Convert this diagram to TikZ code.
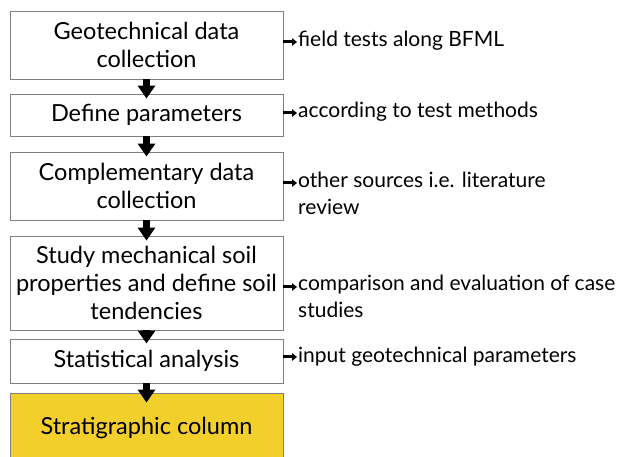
\documentclass[tikz,border=0pt]{standalone}
\usepackage{fontspec}
\setmainfont{Lato}
\usetikzlibrary{arrows.meta}
\definecolor{boxline}{HTML}{808080}
\definecolor{stratfill}{HTML}{F3CF2B}
\begin{document}
\begin{tikzpicture}[x=1pt,y=-1pt,
  stepbox/.style={draw=boxline,line width=0.9pt,minimum width=273pt,inner sep=0pt,align=center,
     font=\fontsize{23.5}{28}\selectfont},
  sidelabel/.style={anchor=base west,inner sep=0pt,align=left,font=\fontsize{21}{27}\selectfont},
  downarrow/.style={line width=6.5pt,-{Triangle[width=17pt,length=13pt]}},
  sidearrow/.style={line width=3pt,-{Triangle[width=7.5pt,length=5pt]}}]
\clip (0,0) rectangle (622,457);
\fill[white] (0,0) rectangle (622,457);
\node[stepbox,minimum height=68pt] (b1) at (146.5,45) {Geotechnical data\\collection};
\node[stepbox,minimum height=42pt] (b2) at (146.5,115) {Define parameters};
\node[stepbox,minimum height=68pt] (b3) at (146.5,186) {Complementary data\\collection};
\node[stepbox,minimum height=94pt] (b4) at (146.5,283) {Study mechanical soil\\properties and define soil\\tendencies};
\node[stepbox,minimum height=44pt] (b5) at (146.5,361) {Statistical analysis};
\node[stepbox,fill=stratfill,minimum height=70pt] (b6) at (146.5,428) {Stratigraphic column};
\draw[downarrow] (b1.south) -- ([yshift=-5pt]b2.north);
\draw[downarrow] (b2.south) -- ([yshift=-5pt]b3.north);
\draw[downarrow] (b3.south) -- ([yshift=-5pt]b4.north);
\draw[downarrow] (b4.south) -- ([yshift=-5pt]b5.north);
\draw[downarrow] (b5.south) -- ([yshift=-10pt]b6.north);
\node[sidelabel] (l1) at (298,47) {field tests along BFML};
\node[sidelabel] (l2) at (298,118) {according to test methods};
\node[sidelabel] (l3) at (298,215) {other sources i.e. literature\\review};
\node[sidelabel] (l4) at (298,318) {comparison and evaluation of case\\studies};
\node[sidelabel] (l5) at (298,363) {input geotechnical parameters};
\coordinate (a1) at (297,42);
\coordinate (a2) at (297,113);
\coordinate (a3) at (297,183);
\coordinate (a4) at (297,287);
\coordinate (a5) at (297,357);
\draw[sidearrow] (b1.east |- a1) -- (a1);
\draw[sidearrow] (b2.east |- a2) -- (a2);
\draw[sidearrow] (b3.east |- a3) -- (a3);
\draw[sidearrow] (b4.east |- a4) -- (a4);
\draw[sidearrow] (b5.east |- a5) -- (a5);
\end{tikzpicture}
\end{document}
